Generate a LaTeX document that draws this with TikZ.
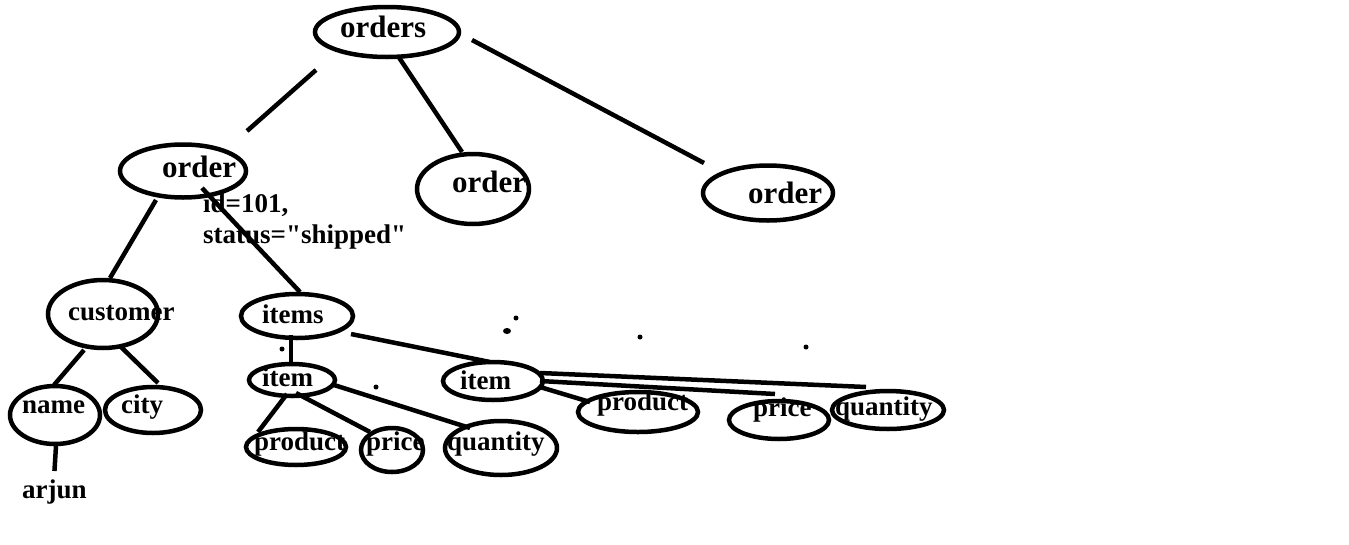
\documentclass[tikz,border=0pt]{standalone}
\usepackage{fontspec}
\setmainfont{Liberation Serif}
\usetikzlibrary{shapes.geometric,calc}
\begin{document}
\begin{tikzpicture}[x=1pt,y=-1pt,
  ell/.style={draw, ellipse, line width=4.5pt, inner sep=0pt},
  conn/.style={line width=4.5pt},
  big/.style={font=\fontsize{31}{33}\selectfont\bfseries, inner sep=0pt, anchor=base west},
  lbl/.style={font=\fontsize{27}{29}\selectfont\bfseries, inner sep=0pt, anchor=base west},
  dotmark/.style={fill=black}]
\useasboundingbox[fill=white] (0,0) rectangle (1349,544);
% ellipses
\node[ell, minimum width=144pt, minimum height=50pt] (orders) at (387,32) {};
\node[ell, minimum width=126pt, minimum height=53pt] (order1) at (183,171) {};
\node[ell, minimum width=112pt, minimum height=70pt] (order2) at (473,189) {};
\node[ell, minimum width=130pt, minimum height=55pt] (order3) at (768,193) {};
\node[ell, minimum width=110pt, minimum height=68pt] (customer) at (103,314) {};
\node[ell, minimum width=90pt, minimum height=58pt] (name) at (55,415) {};
\node[ell, minimum width=96pt, minimum height=46pt] (city) at (153,410) {};
\node[ell, minimum width=112pt, minimum height=44pt] (items) at (297,316) {};
\node[ell, minimum width=86pt, minimum height=32pt] (item1) at (292,380) {};
\node[ell, minimum width=100pt, minimum height=38pt] (item2) at (493,381) {};
\node[ell, minimum width=100pt, minimum height=36pt] (product1) at (296,447) {};
\node[ell, minimum width=62pt, minimum height=44pt] (price1) at (392,450) {};
\node[ell, minimum width=112pt, minimum height=54pt] (quantity1) at (501,448) {};
\node[ell, minimum width=120pt, minimum height=40pt] (product2) at (638,412) {};
\node[ell, minimum width=100pt, minimum height=38pt] (price2) at (779,420) {};
\node[ell, minimum width=112pt, minimum height=38pt] (quantity2) at (888,410) {};
% texts
\node[big] (torders) at (340,37) {orders};
\node[big] (torder1) at (162,177) {order};
\node[big] (torder2) at (452,192) {order};
\node[big] (torder3) at (748,203) {order};
\node[lbl] (tid) at (203,212) {id=101,};
\node[lbl] (tstatus) at (203,243) {status=\textquotedbl shipped\textquotedbl};
\node[lbl] (tcustomer) at (68,320) {customer};
\node[lbl] (tname) at (22,413) {name};
\node[lbl] (tcity) at (121,413) {city};
\node[lbl] (arjun) at (22,498) {arjun};
\node[lbl] (titems) at (262,323) {items};
\node[lbl] (titem1) at (262,386) {item};
\node[lbl] (titem2) at (460,389) {item};
\node[lbl] (tproduct1) at (254,450) {product};
\node[lbl] (tprice1) at (366,450) {price};
\node[lbl] (tquantity1) at (447,450) {quantity};
\node[lbl] (tproduct2) at (597,410) {product};
\node[lbl] (tprice2) at (753,416) {price};
\node[lbl] (tquantity2) at (835,415) {quantity};
% connectors
\draw[conn] ($(orders)+(-71,38)$) -- ($(order1)+(64,-40)$);
\draw[conn] ($(orders)+(11,24)$) -- ($(order2)+(-11,-37)$);
\draw[conn] ($(orders)+(85,8)$) -- ($(order3)+(-64,-30)$);
\draw[conn] ($(order1)+(-27,29)$) -- ($(customer)+(7,-36)$);
\draw[conn] ($(order1)+(19,17)$) -- ($(items)+(3,-24)$);
\draw[conn] ($(customer)+(-19,36)$) -- ($(name)+(-1,-30)$);
\draw[conn] ($(customer)+(17,32)$) -- ($(city)+(5,-27)$);
\draw[conn] ($(name)+(1,31)$) -- ($(arjun.base)+(0,-27)$);
\draw[conn] ($(items)+(-6,19)$) -- ($(item1)+(-1,-18)$);
\draw[conn] ($(items)+(54,18)$) -- ($(item2)+(-3,-19)$);
\draw[conn] ($(item1)+(-5,14)$) -- ($(product1)+(-38,-15)$);
\draw[conn] ($(item1)+(4,13)$) -- ($(price1)+(-22,-18)$);
\draw[conn] ($(item1)+(42,5)$) -- ($(quantity1)+(-31,-20)$);
\draw[conn] ($(item2)+(47,6)$) -- ($(product2)+(-48,-10)$);
\draw[conn] ($(item2)+(47,0)$) -- ($(price2)+(-4,-26)$);
\draw[conn] ($(item2)+(47,-8)$) -- ($(quantity2)+(-22,-23)$);
% stray dots
\fill[dotmark] (516,318) circle (2.5);
\fill[dotmark] (507,331) ellipse (4 and 3);
\fill[dotmark] (640,337) circle (2.5);
\fill[dotmark] (806,347) circle (2.5);
\fill[dotmark] (282,349) circle (2.5);
\fill[dotmark] (376,387) circle (2.5);
\end{tikzpicture}
\end{document}
